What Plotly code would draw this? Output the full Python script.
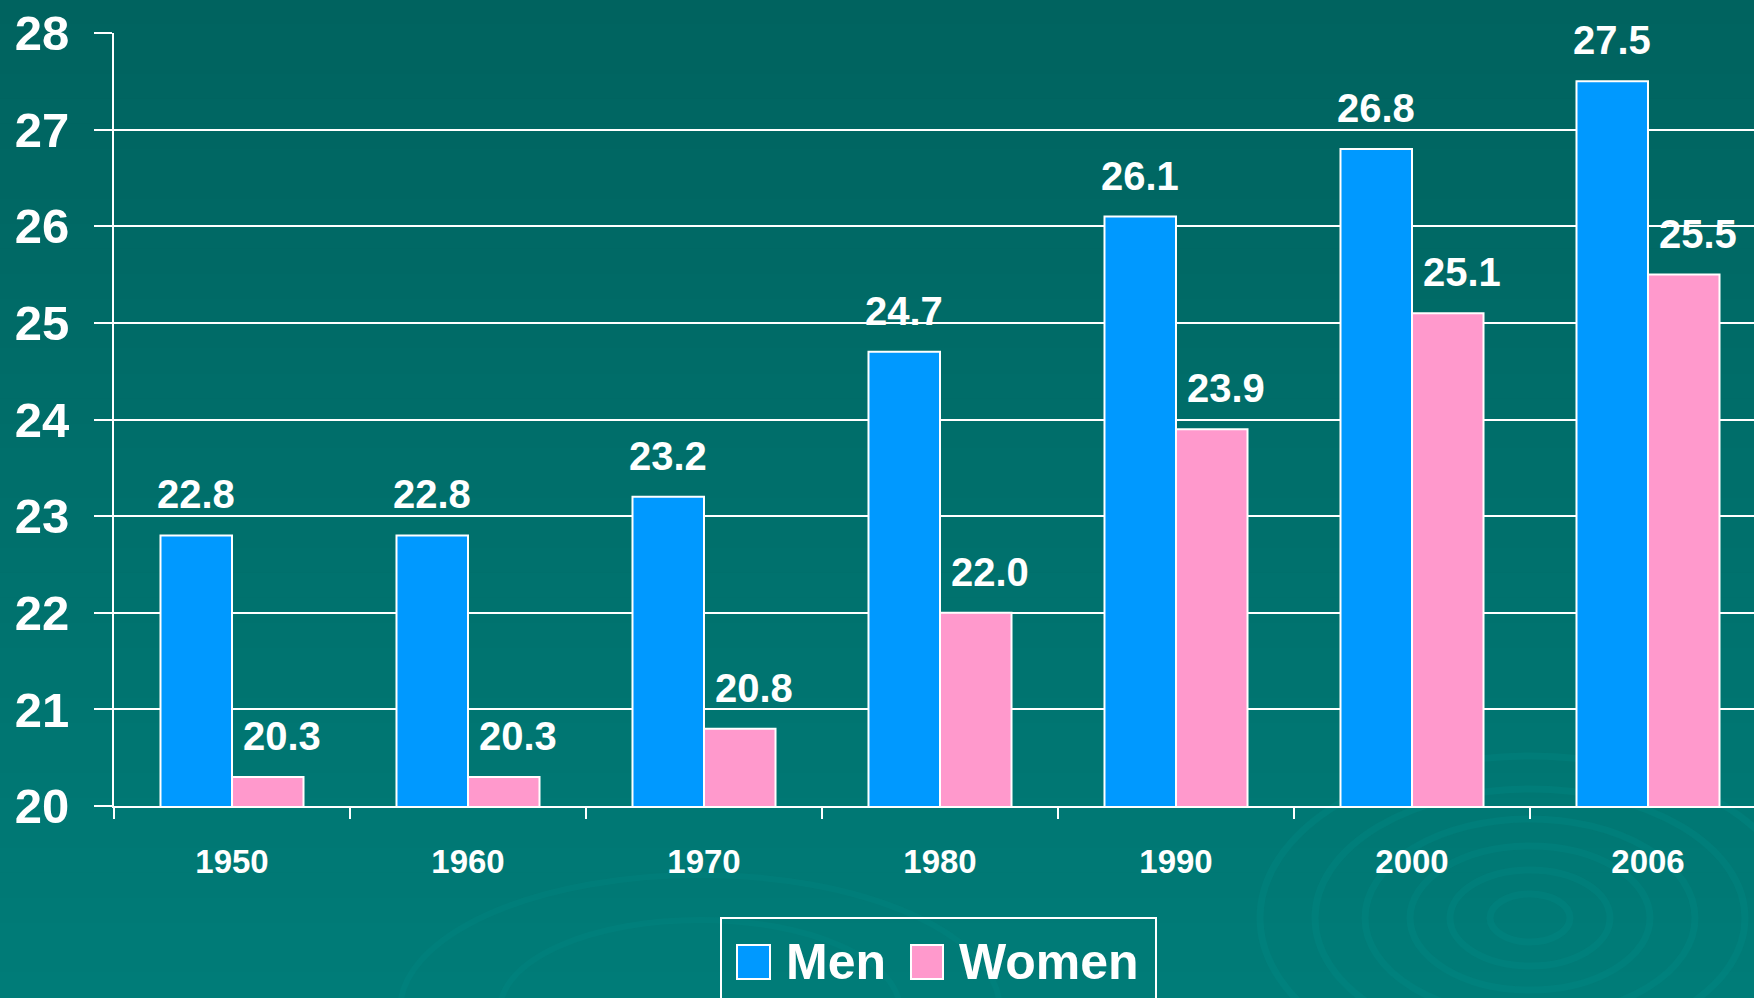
import plotly.graph_objects as go

# data
years = ["1950", "1960", "1970", "1980", "1990", "2000", "2006"]
men = [22.8, 22.8, 23.2, 24.7, 26.1, 26.8, 27.5]
women = [20.3, 20.3, 20.8, 22.0, 23.9, 25.1, 25.5]
y_ticks = [20, 21, 22, 23, 24, 25, 26, 27, 28]

W, H = 1754, 998
L, T, B = 114, 33, 192
FONT = "Liberation Sans, Arial, sans-serif"
MEN_COL = "#0099FF"
WOMEN_COL = "#FF99CC"


def px_x(px):
    # pixel -> paper x
    return (px - L) / (W - L)


def px_y(py):
    # pixel -> paper y
    return (H - B - py) / (H - B - T)


fig = go.Figure()

fig.add_trace(go.Bar(
    x=years, y=men, name="Men",
    marker=dict(color=MEN_COL, line=dict(color="white", width=2)),
    showlegend=False,
))
fig.add_trace(go.Bar(
    x=years, y=women, name="Women",
    marker=dict(color=WOMEN_COL, line=dict(color="white", width=2)),
    showlegend=False,
))

# value labels above bars (x given as category index)
label_font = dict(family=FONT, size=40, color="white", weight="bold")
for i, v in enumerate(men):
    fig.add_annotation(x=i, y=v, xref="x", yref="y", text=f"{v:.1f}", showarrow=False,
                       xshift=-35.75, yshift=17, yanchor="bottom", font=label_font)
for i, v in enumerate(women):
    fig.add_annotation(x=i, y=v, xref="x", yref="y", text=f"{v:.1f}", showarrow=False,
                       xshift=50, yshift=17, yanchor="bottom", font=label_font)

shapes = []

# background gradient, dark teal at top to lighter teal at bottom
n_bands = 40
top_c = (0, 99, 95)
bot_c = (0, 124, 120)
for i in range(n_bands):
    f = i / (n_bands - 1)
    c = tuple(round(top_c[k] + (bot_c[k] - top_c[k]) * f) for k in range(3))
    y0 = i * H / n_bands
    y1 = (i + 1) * H / n_bands + 1
    shapes.append(dict(type="rect", xref="paper", yref="paper", layer="below",
                       x0=px_x(-2), x1=px_x(W + 2), y0=px_y(y1), y1=px_y(y0 - 1),
                       fillcolor="rgb(%d,%d,%d)" % c, line=dict(width=0)))

# faint ripples bottom right
for rx in [40, 80, 120, 165, 215, 270]:
    shapes.append(dict(type="circle", xref="paper", yref="paper", layer="below",
                       x0=px_x(1530 - rx), x1=px_x(1530 + rx),
                       y0=px_y(918 + rx * 0.6), y1=px_y(918 - rx * 0.6),
                       line=dict(color="rgba(0,145,141,0.25)", width=7)))
for rx in [200, 300]:
    shapes.append(dict(type="circle", xref="paper", yref="paper", layer="below",
                       x0=px_x(700 - rx), x1=px_x(700 + rx),
                       y0=px_y(1010 + rx * 0.45), y1=px_y(1010 - rx * 0.45),
                       line=dict(color="rgba(0,145,141,0.2)", width=6)))

# legend box
shapes.append(dict(type="rect", xref="paper", yref="paper",
                   x0=px_x(721), x1=px_x(1156), y0=px_y(1010), y1=px_y(918),
                   line=dict(color="white", width=2), fillcolor="rgba(0,0,0,0)"))
shapes.append(dict(type="rect", xref="paper", yref="paper",
                   x0=px_x(737), x1=px_x(770), y0=px_y(979), y1=px_y(945),
                   line=dict(color="white", width=2), fillcolor=MEN_COL))
shapes.append(dict(type="rect", xref="paper", yref="paper",
                   x0=px_x(911), x1=px_x(943), y0=px_y(979), y1=px_y(945),
                   line=dict(color="white", width=2), fillcolor=WOMEN_COL))

for label, px in [("Men", 784), ("Women", 957)]:
    fig.add_annotation(xref="paper", yref="paper", x=px_x(px), y=px_y(962),
                       text=label, showarrow=False, xanchor="left", yanchor="middle",
                       font=dict(family=FONT, size=50, color="white", weight="bold"))

fig.update_layout(
    width=W, height=H,
    margin=dict(l=L, r=0, t=T, b=B, pad=0),
    paper_bgcolor="rgb(0,110,106)",
    plot_bgcolor="rgba(0,0,0,0)",
    barmode="group",
    bargap=0.394,
    bargroupgap=0,
    shapes=shapes,
    font=dict(family=FONT, color="white"),
)

fig.update_xaxes(
    type="category",
    range=[-0.5, 6.5 - 12 / 236],
    showline=True, linecolor="white", linewidth=2,
    ticks="outside", tickson="boundaries", ticklen=11, tickwidth=2, tickcolor="white",
    showgrid=False,
    tickfont=dict(family=FONT, size=33, color="white", weight="bold"),
    ticklabelstandoff=25,
)
fig.update_yaxes(
    range=[20, 28],
    tickvals=y_ticks,
    showline=True, linecolor="white", linewidth=2,
    ticks="outside", ticklen=18, tickwidth=2, tickcolor="white",
    showgrid=True, gridcolor="white", gridwidth=2,
    zeroline=False,
    tickfont=dict(family=FONT, size=49, color="white", weight="bold"),
    ticklabelstandoff=15,
)

# drop the default page margin so the figure fills the window
fig.write_html("out.html", config={"displayModeBar": False},
               post_script="document.body.style.margin='0';")
